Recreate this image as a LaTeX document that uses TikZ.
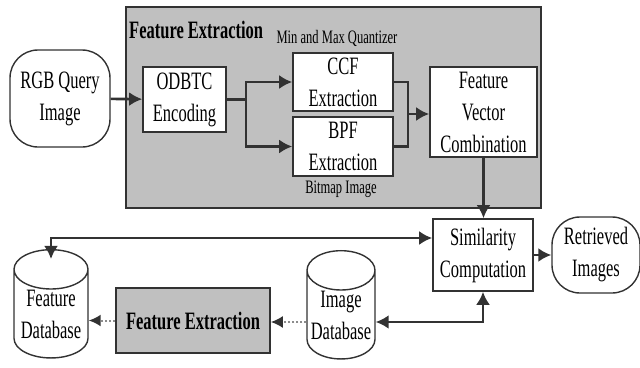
\documentclass[tikz,border=0pt]{standalone}
\usepackage{fontspec}
\setmainfont{Liberation Serif}[FakeStretch=0.66]
\usetikzlibrary{arrows.meta,positioning,shapes.geometric,calc}
\definecolor{boxgray}{RGB}{192,192,192}
\definecolor{linegray}{RGB}{50,50,50}
\definecolor{dotgray}{RGB}{140,140,140}

\begin{document}
\begin{tikzpicture}[
    x=1pt,y=-1pt,
    font=\fontsize{25}{32}\selectfont,
    process/.style={rectangle,draw=linegray,line width=1.6pt,fill=white,align=center,inner sep=0pt},
    terminal/.style={rectangle,rounded corners=28pt,draw=linegray,line width=1.4pt,fill=white,align=center,inner sep=0pt},
    database/.style={cylinder,shape border rotate=90,aspect=0.65,draw=linegray,line width=1.4pt,fill=white,align=center,inner sep=0pt},
    smalltext/.style={font=\fontsize{19}{23}\selectfont,inner sep=0pt},
    arrow/.style={-{Latex[length=13pt,width=14pt]},line width=2.6pt,draw=linegray},
    dualarrow/.style={{Latex[length=13pt,width=14pt]}-{Latex[length=13pt,width=14pt]},line width=2.6pt,draw=linegray},
    dotarrow/.style={-{Latex[length=12pt,width=12pt,color=linegray]},line width=2pt,draw=dotgray,dotted},
    joinline/.style={line width=2.6pt,draw=linegray}
]
\useasboundingbox (0,0) rectangle (640,367);

% Feature extraction block
\node[draw=linegray,fill=boxgray,line width=1.6pt,minimum width=415pt,minimum height=201pt,inner sep=0pt] (fe) at (333.5,107.5) {};
\node[anchor=west,inner sep=0pt,font=\fontsize{25}{32}\selectfont\bfseries] (fetitle) at (129,30) {Feature Extraction};

% Query
\node[terminal,minimum width=100pt,minimum height=97pt] (query) at (60,98.5) {RGB Query\\Image};

% Encoding
\node[process,minimum width=83pt,minimum height=65pt] (odbtc) at (184.5,99.5) {ODBTC\\Encoding};

% Features
\node[process,minimum width=100pt,minimum height=58pt] (ccf) at (343,82) {CCF\\Extraction};
\node[process,minimum width=100pt,minimum height=59pt] (bpf) at (343,146.5) {BPF\\Extraction};
\node[smalltext] (quant) at (337,38) {Min and Max Quantizer};
\node[smalltext] (bitmap) at (341,189) {Bitmap Image};

% Combination
\node[process,minimum width=107pt,minimum height=90pt] (fvc) at (483.5,112) {Feature\\Vector\\Combination};

% Similarity
\node[process,minimum width=100pt,minimum height=72pt] (sim) at (483,255) {Similarity\\Computation};
\node[terminal,minimum width=88pt,minimum height=76pt] (retrieved) at (596,255) {Retrieved\\Images};

% Databases
\node[database,minimum width=74pt,minimum height=102pt] (featdb) at (51,314) {Feature\\Database};
\node[process,fill=boxgray,minimum width=154pt,minimum height=65pt,font=\fontsize{25}{32}\selectfont\bfseries] (fe2) at (193,320.5) {Feature Extraction};
\node[database,minimum width=68pt,minimum height=94pt] (imgdb) at (341,315) {Image\\Database};

% Arrows
\coordinate (join) at (408,114);
\draw[arrow] (query) -- (odbtc);
\draw[arrow] (odbtc.east) -- ++(19,0) |- (ccf.west);
\draw[arrow] (odbtc.east) -- ++(19,0) |- (bpf.west);
\draw[joinline] (ccf.east) -| (join) |- (bpf.east);
\draw[arrow] (join) -- (join -| fvc.west);
\draw[arrow] (fvc.south) -- (fvc.south |- sim.north);
\draw[arrow] (sim) -- (retrieved);
\draw[dualarrow] ([yshift=17pt]sim.west) -| ([yshift=-10pt]featdb.north);
\draw[dualarrow] (sim.south) |- ([yshift=-7pt]imgdb.east);
\draw[dotarrow] ([yshift=-7pt]imgdb.west) -- ([yshift=-7pt]imgdb.west -| fe2.east);
\draw[dotarrow] (fe2.west) -- (fe2.west -| featdb.east);
\end{tikzpicture}
\end{document}
